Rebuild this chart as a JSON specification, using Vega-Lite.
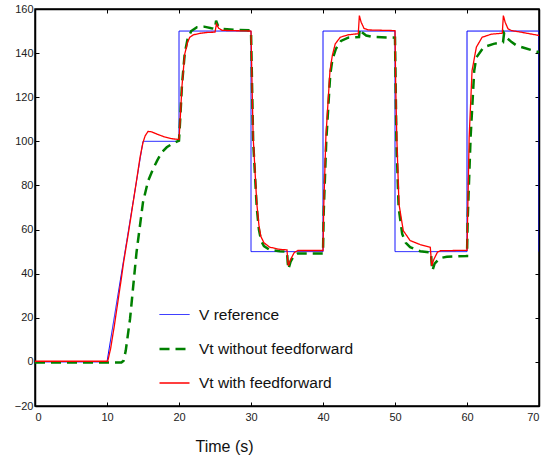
{
  "$schema": "https://vega.github.io/schema/vega-lite/v6.json",
  "width": 504,
  "height": 397,
  "autosize": {"type": "none"},
  "padding": {"left": 35, "top": 9, "right": 13, "bottom": 55},
  "background": "white",
  "config": {
    "font": "Liberation Sans",
    "view": {"stroke": "black", "strokeWidth": 1.5},
    "axis": {"grid": false, "domainColor": "black", "domainWidth": 1.5, "tickColor": "black", "labelColor": "#222", "labelFontSize": 11, "labelFont": "Liberation Sans"},
    "legend": {
      "orient": "none", "legendX": 123, "legendY": 290, "padding": 0,
      "symbolType": "stroke", "symbolSize": 900, "labelFontSize": 15.5, "labelFont": "Liberation Sans", "labelColor": "#111",
      "labelOffset": 8, "rowPadding": 9.5
    }
  },
  "data": {"values": [
    {"s": "V reference", "t": 0, "v": 0}, {"s": "V reference", "t": 10, "v": 0}, {"s": "V reference", "t": 15, "v": 100}, {"s": "V reference", "t": 20, "v": 100},
    {"s": "V reference", "t": 20, "v": 150}, {"s": "V reference", "t": 30, "v": 150}, {"s": "V reference", "t": 30, "v": 50}, {"s": "V reference", "t": 40, "v": 50},
    {"s": "V reference", "t": 40, "v": 150}, {"s": "V reference", "t": 50, "v": 150}, {"s": "V reference", "t": 50, "v": 50}, {"s": "V reference", "t": 60, "v": 50},
    {"s": "V reference", "t": 60, "v": 150}, {"s": "V reference", "t": 70, "v": 150}, {"s": "V reference", "t": 70, "v": 50},

    {"s": "Vt without feedforward", "t": 0, "v": -0.3}, {"s": "Vt without feedforward", "t": 12, "v": -0.3}, {"s": "Vt without feedforward", "t": 12.3, "v": 0.5},
    {"s": "Vt without feedforward", "t": 12.6, "v": 5}, {"s": "Vt without feedforward", "t": 13.2, "v": 19.5}, {"s": "Vt without feedforward", "t": 14.1, "v": 49.7},
    {"s": "Vt without feedforward", "t": 15, "v": 72.4}, {"s": "Vt without feedforward", "t": 15.7, "v": 82}, {"s": "Vt without feedforward", "t": 16.4, "v": 87.5},
    {"s": "Vt without feedforward", "t": 17, "v": 91.5}, {"s": "Vt without feedforward", "t": 17.6, "v": 95}, {"s": "Vt without feedforward", "t": 18.3, "v": 97.3},
    {"s": "Vt without feedforward", "t": 19, "v": 98.8}, {"s": "Vt without feedforward", "t": 20, "v": 100.3}, {"s": "Vt without feedforward", "t": 20.2, "v": 112},
    {"s": "Vt without feedforward", "t": 20.4, "v": 125}, {"s": "Vt without feedforward", "t": 20.8, "v": 140}, {"s": "Vt without feedforward", "t": 21.2, "v": 146.5},
    {"s": "Vt without feedforward", "t": 21.7, "v": 150}, {"s": "Vt without feedforward", "t": 22.5, "v": 151.7}, {"s": "Vt without feedforward", "t": 23.5, "v": 152},
    {"s": "Vt without feedforward", "t": 24.5, "v": 151.3}, {"s": "Vt without feedforward", "t": 25, "v": 151}, {"s": "Vt without feedforward", "t": 25.15, "v": 154.7},
    {"s": "Vt without feedforward", "t": 25.4, "v": 152.5}, {"s": "Vt without feedforward", "t": 26, "v": 151}, {"s": "Vt without feedforward", "t": 28, "v": 150.5},
    {"s": "Vt without feedforward", "t": 30, "v": 150.3}, {"s": "Vt without feedforward", "t": 30.15, "v": 125}, {"s": "Vt without feedforward", "t": 30.3, "v": 100},
    {"s": "Vt without feedforward", "t": 30.8, "v": 70}, {"s": "Vt without feedforward", "t": 31.1, "v": 60}, {"s": "Vt without feedforward", "t": 31.4, "v": 55},
    {"s": "Vt without feedforward", "t": 31.8, "v": 52.5}, {"s": "Vt without feedforward", "t": 32.6, "v": 50.8}, {"s": "Vt without feedforward", "t": 34, "v": 50.2},
    {"s": "Vt without feedforward", "t": 35, "v": 50}, {"s": "Vt without feedforward", "t": 35.1, "v": 45}, {"s": "Vt without feedforward", "t": 35.2, "v": 42.1},
    {"s": "Vt without feedforward", "t": 35.5, "v": 45.5}, {"s": "Vt without feedforward", "t": 36, "v": 48.3}, {"s": "Vt without feedforward", "t": 36.5, "v": 49.2},
    {"s": "Vt without feedforward", "t": 40, "v": 49.2}, {"s": "Vt without feedforward", "t": 40.1, "v": 68}, {"s": "Vt without feedforward", "t": 40.45, "v": 100},
    {"s": "Vt without feedforward", "t": 41, "v": 130}, {"s": "Vt without feedforward", "t": 41.3, "v": 137}, {"s": "Vt without feedforward", "t": 41.8, "v": 142},
    {"s": "Vt without feedforward", "t": 42.5, "v": 145.5}, {"s": "Vt without feedforward", "t": 43.5, "v": 147}, {"s": "Vt without feedforward", "t": 45, "v": 147.3},
    {"s": "Vt without feedforward", "t": 45.1, "v": 151}, {"s": "Vt without feedforward", "t": 45.4, "v": 149.5}, {"s": "Vt without feedforward", "t": 46, "v": 148},
    {"s": "Vt without feedforward", "t": 47, "v": 147.3}, {"s": "Vt without feedforward", "t": 50, "v": 147}, {"s": "Vt without feedforward", "t": 50.2, "v": 100},
    {"s": "Vt without feedforward", "t": 50.5, "v": 70}, {"s": "Vt without feedforward", "t": 51, "v": 58}, {"s": "Vt without feedforward", "t": 51.5, "v": 54},
    {"s": "Vt without feedforward", "t": 52.1, "v": 52}, {"s": "Vt without feedforward", "t": 53.5, "v": 50.2}, {"s": "Vt without feedforward", "t": 55, "v": 49.6},
    {"s": "Vt without feedforward", "t": 55.1, "v": 44}, {"s": "Vt without feedforward", "t": 55.2, "v": 41.4}, {"s": "Vt without feedforward", "t": 55.5, "v": 44.5},
    {"s": "Vt without feedforward", "t": 56.2, "v": 47}, {"s": "Vt without feedforward", "t": 57.2, "v": 47.7}, {"s": "Vt without feedforward", "t": 60, "v": 48},
    {"s": "Vt without feedforward", "t": 60.1, "v": 65}, {"s": "Vt without feedforward", "t": 60.5, "v": 101.8}, {"s": "Vt without feedforward", "t": 61, "v": 132},
    {"s": "Vt without feedforward", "t": 61.3, "v": 138}, {"s": "Vt without feedforward", "t": 62.3, "v": 142.7}, {"s": "Vt without feedforward", "t": 63.7, "v": 144.2},
    {"s": "Vt without feedforward", "t": 65, "v": 144.9}, {"s": "Vt without feedforward", "t": 65.15, "v": 149}, {"s": "Vt without feedforward", "t": 65.5, "v": 147},
    {"s": "Vt without feedforward", "t": 66.2, "v": 145}, {"s": "Vt without feedforward", "t": 66.9, "v": 143.4}, {"s": "Vt without feedforward", "t": 68, "v": 142.3},
    {"s": "Vt without feedforward", "t": 69, "v": 141.3}, {"s": "Vt without feedforward", "t": 70, "v": 140.4},

    {"s": "Vt with feedforward", "t": 0, "v": 0.3}, {"s": "Vt with feedforward", "t": 10.1, "v": 0.3}, {"s": "Vt with feedforward", "t": 10.5, "v": 6},
    {"s": "Vt with feedforward", "t": 11, "v": 16}, {"s": "Vt with feedforward", "t": 11.5, "v": 27}, {"s": "Vt with feedforward", "t": 12, "v": 38},
    {"s": "Vt with feedforward", "t": 12.3, "v": 45}, {"s": "Vt with feedforward", "t": 13, "v": 59}, {"s": "Vt with feedforward", "t": 14, "v": 80},
    {"s": "Vt with feedforward", "t": 14.6, "v": 93}, {"s": "Vt with feedforward", "t": 15, "v": 99.5}, {"s": "Vt with feedforward", "t": 15.3, "v": 102.5},
    {"s": "Vt with feedforward", "t": 15.7, "v": 104.5}, {"s": "Vt with feedforward", "t": 16.2, "v": 104.3}, {"s": "Vt with feedforward", "t": 17, "v": 103.2},
    {"s": "Vt with feedforward", "t": 18, "v": 102}, {"s": "Vt with feedforward", "t": 19, "v": 101.2}, {"s": "Vt with feedforward", "t": 20, "v": 100.8},
    {"s": "Vt with feedforward", "t": 20.2, "v": 112}, {"s": "Vt with feedforward", "t": 20.4, "v": 124.5}, {"s": "Vt with feedforward", "t": 20.8, "v": 139.6},
    {"s": "Vt with feedforward", "t": 21.2, "v": 145}, {"s": "Vt with feedforward", "t": 21.5, "v": 147.2}, {"s": "Vt with feedforward", "t": 22, "v": 148.3},
    {"s": "Vt with feedforward", "t": 23, "v": 149}, {"s": "Vt with feedforward", "t": 24, "v": 149.4}, {"s": "Vt with feedforward", "t": 25, "v": 149.5},
    {"s": "Vt with feedforward", "t": 25.2, "v": 153.2}, {"s": "Vt with feedforward", "t": 25.5, "v": 151.3}, {"s": "Vt with feedforward", "t": 26, "v": 150.3},
    {"s": "Vt with feedforward", "t": 30, "v": 150}, {"s": "Vt with feedforward", "t": 30.15, "v": 125}, {"s": "Vt with feedforward", "t": 30.3, "v": 102},
    {"s": "Vt with feedforward", "t": 30.8, "v": 72}, {"s": "Vt with feedforward", "t": 31.1, "v": 62}, {"s": "Vt with feedforward", "t": 31.35, "v": 57},
    {"s": "Vt with feedforward", "t": 31.8, "v": 54}, {"s": "Vt with feedforward", "t": 32.6, "v": 52}, {"s": "Vt with feedforward", "t": 34, "v": 51},
    {"s": "Vt with feedforward", "t": 35, "v": 50.8}, {"s": "Vt with feedforward", "t": 35.1, "v": 46}, {"s": "Vt with feedforward", "t": 35.2, "v": 43.6},
    {"s": "Vt with feedforward", "t": 35.5, "v": 46.5}, {"s": "Vt with feedforward", "t": 36, "v": 49.5}, {"s": "Vt with feedforward", "t": 36.5, "v": 50.5},
    {"s": "Vt with feedforward", "t": 40, "v": 50.5}, {"s": "Vt with feedforward", "t": 40.1, "v": 70}, {"s": "Vt with feedforward", "t": 40.4, "v": 102},
    {"s": "Vt with feedforward", "t": 40.97, "v": 132}, {"s": "Vt with feedforward", "t": 41.3, "v": 139}, {"s": "Vt with feedforward", "t": 41.7, "v": 144.2},
    {"s": "Vt with feedforward", "t": 42.4, "v": 147.2}, {"s": "Vt with feedforward", "t": 43.5, "v": 148.3}, {"s": "Vt with feedforward", "t": 44.9, "v": 148.8},
    {"s": "Vt with feedforward", "t": 45.05, "v": 157}, {"s": "Vt with feedforward", "t": 45.3, "v": 154}, {"s": "Vt with feedforward", "t": 45.7, "v": 151.2},
    {"s": "Vt with feedforward", "t": 46.3, "v": 150.5}, {"s": "Vt with feedforward", "t": 50, "v": 150.2}, {"s": "Vt with feedforward", "t": 50.1, "v": 125},
    {"s": "Vt with feedforward", "t": 50.25, "v": 101.8}, {"s": "Vt with feedforward", "t": 50.55, "v": 71.6}, {"s": "Vt with feedforward", "t": 51.15, "v": 59.5},
    {"s": "Vt with feedforward", "t": 52.1, "v": 55}, {"s": "Vt with feedforward", "t": 53.5, "v": 53.2}, {"s": "Vt with feedforward", "t": 54.9, "v": 52},
    {"s": "Vt with feedforward", "t": 55.1, "v": 43.6}, {"s": "Vt with feedforward", "t": 55.4, "v": 46.5}, {"s": "Vt with feedforward", "t": 55.9, "v": 49.8},
    {"s": "Vt with feedforward", "t": 56.3, "v": 50.4}, {"s": "Vt with feedforward", "t": 60, "v": 50.6}, {"s": "Vt with feedforward", "t": 60.3, "v": 101.8},
    {"s": "Vt with feedforward", "t": 60.7, "v": 132}, {"s": "Vt with feedforward", "t": 61.3, "v": 142.7}, {"s": "Vt with feedforward", "t": 62.1, "v": 147.2},
    {"s": "Vt with feedforward", "t": 63.4, "v": 148.6}, {"s": "Vt with feedforward", "t": 64.9, "v": 149}, {"s": "Vt with feedforward", "t": 65.05, "v": 157},
    {"s": "Vt with feedforward", "t": 65.3, "v": 154}, {"s": "Vt with feedforward", "t": 65.7, "v": 151}, {"s": "Vt with feedforward", "t": 66.2, "v": 150.2},
    {"s": "Vt with feedforward", "t": 68, "v": 149.2}, {"s": "Vt with feedforward", "t": 70, "v": 148}
  ]},
  "layer": [
    {
      "mark": {"type": "line", "clip": true},
      "encoding": {
        "x": {"field": "t", "type": "quantitative", "scale": {"domain": [0, 70], "nice": false},
              "axis": {"orient": "bottom", "values": [0, 10, 20, 30, 40, 50, 60, 70], "tickSize": -4, "labelPadding": 9,
                       "title": "Time (s)", "titleFontSize": 16, "titleFontWeight": "normal", "titleColor": "#111",
                       "titleX": 189, "titleY": 40, "titleAlign": "center", "titleBaseline": "middle", "titleFont": "Liberation Sans"}},
        "y": {"field": "v", "type": "quantitative", "scale": {"domain": [-20, 160], "nice": false},
              "axis": {"orient": "left", "values": [-20, 0, 20, 40, 60, 80, 100, 120, 140, 160], "tickSize": -4, "labelPadding": 6, "title": null}},
        "color": {"field": "s", "type": "nominal", "title": null,
                  "scale": {"domain": ["V reference", "Vt without feedforward", "Vt with feedforward"], "range": ["#0000ff", "#008000", "#ff0000"]}},
        "strokeDash": {"field": "s", "type": "nominal", "title": null,
                  "scale": {"domain": ["V reference", "Vt without feedforward", "Vt with feedforward"], "range": [[1, 0], [10, 6], [1, 0]]}},
        "strokeWidth": {"field": "s", "type": "nominal", "title": null,
                  "scale": {"type": "ordinal", "domain": ["V reference", "Vt without feedforward", "Vt with feedforward"], "range": [1, 2.5, 1.3]}},
        "order": {"value": null}
      }
    },
    {
      "mark": {"type": "point", "opacity": 0},
      "encoding": {
        "x": {"field": "t", "type": "quantitative",
              "axis": {"orient": "top", "values": [0, 10, 20, 30, 40, 50, 60, 70], "tickSize": -4, "labels": false, "title": null}},
        "y": {"field": "v", "type": "quantitative",
              "axis": {"orient": "right", "values": [-20, 0, 20, 40, 60, 80, 100, 120, 140, 160], "tickSize": -4, "labels": false, "title": null}}
      }
    }
  ],
  "resolve": {"axis": {"x": "independent", "y": "independent"}}
}
